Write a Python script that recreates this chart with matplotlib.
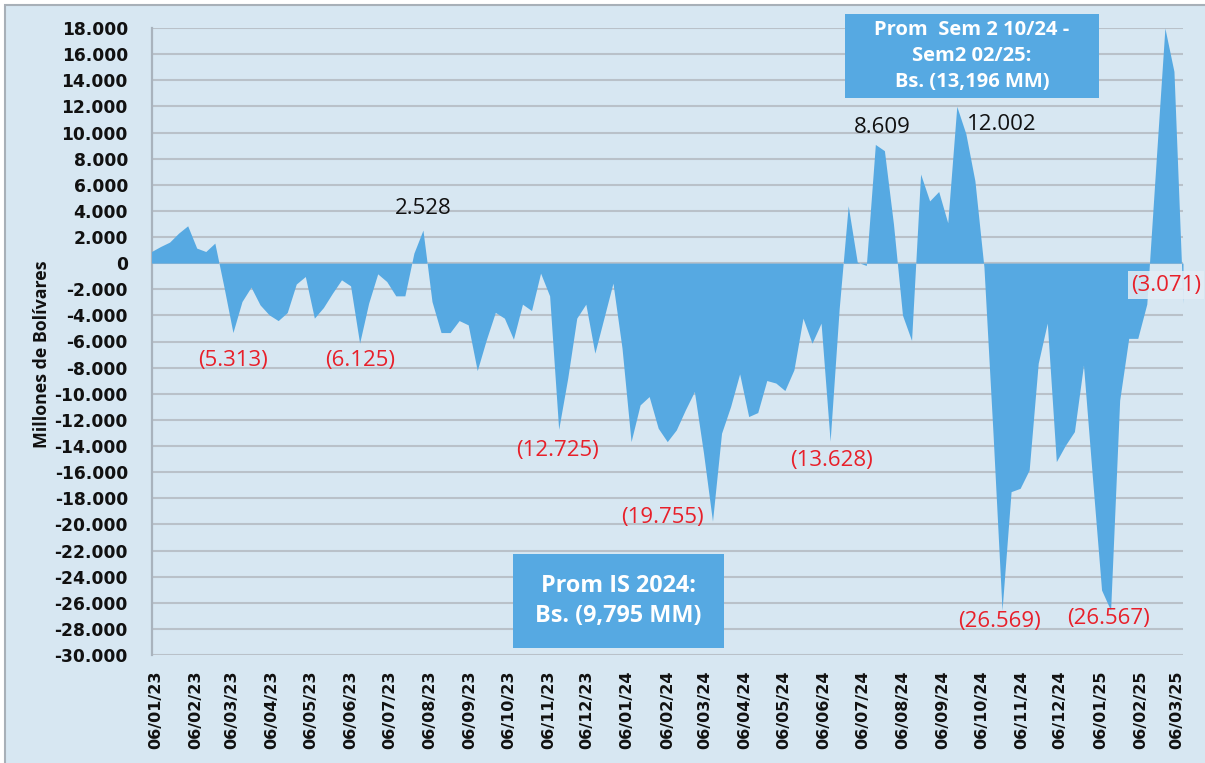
import matplotlib
matplotlib.use("Agg")
import matplotlib.pyplot as plt
import matplotlib.dates as mdates
from matplotlib.patches import Rectangle
from matplotlib.ticker import FuncFormatter, MultipleLocator
import pandas as pd

# ---------------- data (weekly, millions of Bs.) ----------------
start_date = "2023-01-03"
values = [
    889, 1272, 1608, 2298, 2857, 1149, 889, 1532, -1800, -5313,
    -2941, -1838, -3200, -3960, -4400, -3784, -1600, -1026, -4213, -3400,
    -2298, -1279, -1739, -6125, -3064, -820, -1410, -2505, -2505, 766,
    2528, -2941, -5316, -5316, -4397, -4726, -8227, -5875, -3770, -4213,
    -5822, -3141, -3630, -766, -2505, -12725, -8809, -4213, -3141, -6894,
    -4213, -1532, -6500, -13665, -10854, -10215, -12640, -13665, -12768, -11236,
    -9832, -14500, -19755, -13022, -10982, -8476, -11746, -11440, -8987, -9180,
    -9755, -8170, -4213, -6128, -4596, -13628, -3500, 4390, 77, -180,
    9086, 8609, 3000, -3990, -5920, 6821, 4762, 5483, 3089, 12002,
    9910, 6306, -300, -13000, -26569, -17495, -17240, -15836, -7661, -4591,
    -15200, -13947, -12897, -7807, -16500, -25026, -26567, -10500, -5760, -5760,
    -3129, 7500, 18000, 14677, -3071,
]
dates = pd.date_range(start_date, periods=len(values), freq="7D")

# labelled points: (index, text, is_negative, dx_px, dy_px)
labels = [
    (30, "2.528", False, 0, 22),
    (81, "8.609", False, -2, 23),
    (89, "12.002", False, 45, -18),
    (9, "(5.313)", True, 0, -28),
    (23, "(6.125)", True, 1, -17),
    (45, "(12.725)", True, -1, -21),
    (62, "(19.755)", True, -50, 4),
    (75, "(13.628)", True, 1, -19),
    (94, "(26.569)", True, -3, -11),
    (106, "(26.567)", True, -2, -8),
    (114, "(3.071)", True, -17, 18),
]

box1_text = "Prom  Sem 2 10/24 -\nSem2 02/25:\nBs. (13,196 MM)"
box2_text = "Prom IS 2024:\nBs. (9,795 MM)"
ylabel = "Millones de Bolívares"

# ---------------- style ----------------
W, H = 1205, 763
BG = "#D7E7F2"
FILL = "#56A9E2"
GRID = "#B9C1C9"
RED = "#E8202A"

fig = plt.figure(figsize=(W / 100, H / 100), dpi=100)
fig.patch.set_facecolor("white")

# outer frame
frame = Rectangle((5 / W, -0.05), 1.2, 1 - 5 / H + 0.05, transform=fig.transFigure,
                  facecolor=BG, edgecolor="#A8B0B8", linewidth=1.5, zorder=-10)
fig.patches.append(frame)

ax = fig.add_axes([151.5 / W, 1 - 655 / H, (1183 - 151.5) / W, (655 - 28) / H])
ax.set_zorder(1)
ax.set_facecolor(BG)
ax.fill_between(dates, values, 0, color=FILL, linewidth=0, zorder=3)

ax.set_ylim(-30000, 18000)
ax.set_xlim(dates[0], dates[-1])
ax.yaxis.set_major_locator(MultipleLocator(2000))


def yfmt(v, pos):
    if abs(v) < 1e-9:
        return "0"
    return f"{v:,.0f}".replace(",", ".")


ax.yaxis.set_major_formatter(FuncFormatter(yfmt))
ax.xaxis.set_major_locator(mdates.MonthLocator(bymonthday=6))
ax.xaxis.set_major_formatter(mdates.DateFormatter("%d/%m/%y"))

ax.grid(axis="y", color=GRID, linewidth=1.5, zorder=1)
ax.set_axisbelow(True)
for s in ["top", "right", "bottom"]:
    ax.spines[s].set_visible(False)
ax.spines["left"].set_color("#A9B3BD")
ax.spines["left"].set_linewidth(1.6)
ax.tick_params(axis="both", length=0)
ax.tick_params(axis="y", pad=17)
ax.tick_params(axis="x", pad=11)

for t in ax.get_yticklabels():
    t.set_fontfamily("DejaVu Sans")
    t.set_fontweight("bold")
    t.set_fontsize(12.3)
    t.set_color("#111111")
for t in ax.get_xticklabels():
    t.set_fontfamily("DejaVu Sans")
    t.set_fontweight("bold")
    t.set_fontsize(11.5)
    t.set_rotation(90)
    t.set_color("#111111")

fig.text(42 / W, 1 - 354 / H, ylabel, rotation=90, ha="center", va="center",
         fontsize=12.8, fontweight="bold", family="Open Sans", color="#111111",
         zorder=2)

# data labels
for idx, txt, neg, dx, dy in labels:
    kw = {}
    if idx == len(values) - 1:
        kw["bbox"] = dict(boxstyle="square,pad=0.15", facecolor="#E3EEF6",
                          edgecolor="none", alpha=0.85)
    ax.annotate(txt, (dates[idx], values[idx]), xytext=(dx, dy),
                textcoords="offset pixels", ha="center", va="center",
                fontsize=16, family="Open Sans",
                color=RED if neg else "#111111", zorder=6, annotation_clip=False, **kw)


# text boxes
def add_box(x0, y0, x1, y1, text, size, ls):
    fig.patches.append(Rectangle((x0 / W, 1 - y1 / H), (x1 - x0) / W, (y1 - y0) / H,
                                 transform=fig.transFigure, facecolor=FILL,
                                 edgecolor="none", zorder=5))
    fig.text((x0 + x1) / 2 / W, 1 - (y0 + y1) / 2 / H, text, ha="center", va="center",
             color="white", fontsize=size, fontweight="bold", family="Open Sans",
             linespacing=ls, zorder=6)


add_box(845, 14, 1099, 98, box1_text, 14.5, 1.38)
add_box(513, 554, 724, 648, box2_text, 16.8, 1.35)

fig.savefig("out.png", dpi=100, facecolor=fig.get_facecolor())
